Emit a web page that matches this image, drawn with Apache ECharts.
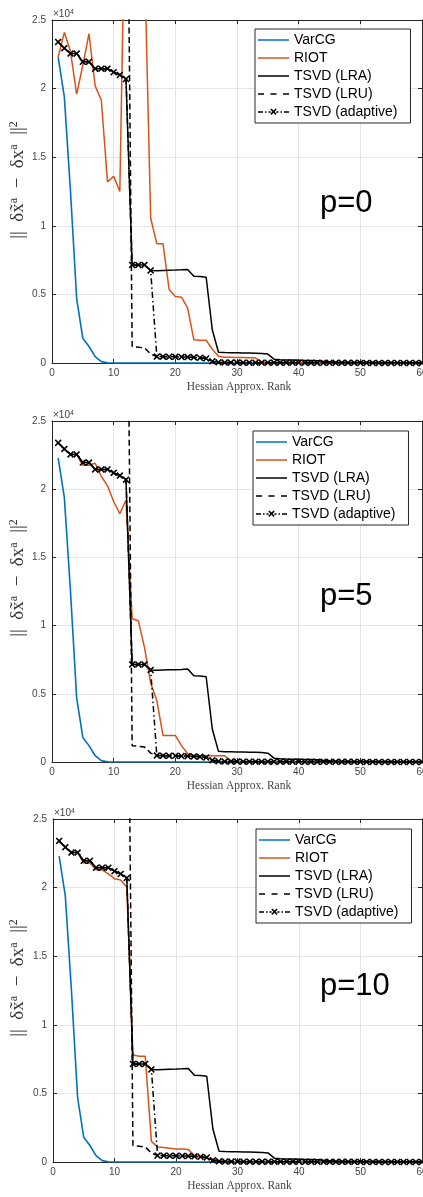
<!DOCTYPE html>
<html><head><meta charset="utf-8">
<script src="https://cdn.jsdelivr.net/npm/echarts@6/dist/echarts.min.js"></script>
<style>html,body{margin:0;padding:0;background:#fff}#c{width:423px;height:1197px}</style>
</head><body><div id="c"></div>
<script>
// ---------------- data ----------------
const ranks = [1,2,3,4,5,6,7,8,9,10,11,12,13,14,15,16,17,18,19,20,21,22,23,24,25,26,27,28,29,30,
  31,32,33,34,35,36,37,38,39,40,41,42,43,44,45,46,47,48,49,50,51,52,53,54,55,56,57,58,59,60];
const xTicks = [0,10,20,30,40,50,60];
const yTicks = [0,5000,10000,15000,20000,25000];
const panelLabels = ['p=0','p=5','p=10'];
const seriesNames = ['VarCG','RIOT','TSVD (LRA)','TSVD (LRU)','TSVD (adaptive)'];

const varcg = [22300,19400,12500,4700,1800,1200,460,100,20,0,
  0,0,0,0,0,0,0,0,0,0, 0,0,0,0,0,0,0,0,0,0, 0,0,0,0,0,0,0,0,0,0,
  0,0,0,0,0,0,0,0,0,0, 0,0,0,0,0,0,0,0,0,0];

const riotP0 = [22300,24100,22700,19600,21700,24000,20200,19150,13200,13600,
  12500,38000,null,null,29600,10550,8700,8700,5350,4850,
  4800,4000,1700,1650,1650,1000,500,420,410,400,
  400,390,380,80,40,35,33,31,30,29,
  28,27,26,25,24,23,22,21,20,19,
  18,17,16,15,14,13,12,11,10,10];

const riotP5 = [23400,22950,22550,22550,21750,21750,21900,20950,20250,19100,
  18200,19200,10500,10350,8400,5800,4500,1950,1950,1950,
  1200,600,460,460,460,460,460,460,100,60,
  40,38,36,34,32,30,29,28,27,26,
  25,24,23,22,21,20,19,18,17,16,
  15,14,13,12,11,10,10,9,9,8];

const riotP10 = [23400,22950,22550,22550,21800,21800,21300,21300,21000,20650,
  20550,20050,7800,7700,7700,1500,1100,1050,1000,950,
  950,920,450,350,300,200,100,50,40,38,
  36,34,32,30,29,28,27,26,25,24,
  23,22,21,20,19,18,17,16,15,14,
  13,12,11,10,10,9,9,8,8,7];

const tsvdLRA = [23400,22950,22550,22550,21950,21950,21450,21450,21450,21200,
  21000,20700,7150,7150,7150,6750,6720,6740,6760,6770,
  6790,6820,6320,6300,6250,2400,780,760,750,740,
  730,720,710,690,650,280,240,220,210,200,
  190,180,170,130,100,70,60,50,45,40,
  35,30,28,25,22,20,18,15,12,10];

const tsvdLRU = [null,null,null,null,null,null,null,null,null,null,
  null,48000,1200,1150,1100,650,470,460,450,450,
  440,430,410,380,330,120,50,35,30,28,
  27,26,25,24,23,22,21,20,19,18,
  17,16,15,14,13,12,11,10,10,9,
  9,8,8,7,7,6,6,5,5,5];

const tsvdAdaptive = [23400,22950,22550,22550,21950,21950,21450,21450,21450,21200,
  21000,20700,7150,7150,7150,6750,470,460,450,450,
  440,430,410,380,330,120,50,35,30,28,
  27,26,25,24,23,22,21,20,19,18,
  17,16,15,14,13,12,11,10,10,9,
  9,8,8,7,7,6,6,5,5,5];

const riotByPanel = [riotP0, riotP5, riotP10];

// ---------------- layout ----------------
const grids = [
  {left:52, top:20, width:370, height:343},
  {left:52, top:421, width:370, height:341},
  {left:53, top:819, width:369, height:343}
];
const legendPos = [{left:255, top:29},{left:253, top:431},{left:256, top:829}];
const pLabelY = [203, 596, 986];
const yTitleY = [180, 578, 978];

const AX = '#262626';
const GRID = '#e4e4e4';
const SANS = 'Liberation Sans, Arial, Helvetica, sans-serif';
const SERIF = 'Liberation Serif, DejaVu Serif, serif';
const xMark = 'path://M0,1.6L1.6,0L5,3.4L8.4,0L10,1.6L6.6,5L10,8.4L8.4,10L5,6.6L1.6,10L0,8.4L3.4,5Z';

// legend icons (31 x 10 box)
const icSolid = 'path://M0,0M31,10M0,4.25H31V5.75H0Z';
const icDash = 'path://M0,0M31,10M0,4.25H6V5.75H0Z M12.5,4.25H18.5V5.75H12.5Z M25,4.25H31V5.75H25Z';
const icDashDot = 'path://M0,0M31,10M0,4.25H5V5.75H0Z M7,4.25H8.5V5.75H7Z M10.5,4.25H12.6V5.75H10.5Z ' +
  'M12.3,2.6L13.4,1.5L15.5,3.6L17.6,1.5L18.7,2.6L16.6,4.7L18.7,6.8L17.6,7.9L15.5,5.8L13.4,7.9L12.3,6.8L14.4,4.7Z ' +
  'M18.4,4.25H20.5V5.75H18.4Z M22.5,4.25H24V5.75H22.5Z M26,4.25H31V5.75H26Z';
const legendIcons = [icSolid, icSolid, icSolid, icDash, icDashDot];

const pair = arr => ranks.map((r, i) => [r, arr[i]]);

const xAxis = [], yAxis = [], series = [], legend = [], graphic = [];
grids.forEach((g, p) => {
  g.outerBoundsMode = 'none';
  g.containLabel = false;
  const base = {
    gridIndex: p, type: 'value',
    axisLine: {show: true, onZero: false, lineStyle: {color: AX, width: 1}},
    axisTick: {show: true, inside: true, length: 4, lineStyle: {color: AX}},
  };
  xAxis.push(Object.assign({}, base, {
    position: 'bottom', min: xTicks[0], max: xTicks[xTicks.length-1], interval: xTicks[1]-xTicks[0],
    axisLabel: {fontSize: 10, color: '#444', fontFamily: SANS, margin: 5},
    splitLine: {show: true, lineStyle: {color: GRID, width: 1}}
  }));
  xAxis.push(Object.assign({}, base, {
    position: 'top', min: xTicks[0], max: xTicks[xTicks.length-1], interval: xTicks[1]-xTicks[0],
    axisLabel: {show: false}, splitLine: {show: false}
  }));
  yAxis.push(Object.assign({}, base, {
    position: 'left', min: yTicks[0], max: yTicks[yTicks.length-1], interval: yTicks[1]-yTicks[0],
    axisLabel: {fontSize: 10, color: '#444', fontFamily: SANS, margin: 6, formatter: v => String(v/10000)},
    splitLine: {show: true, lineStyle: {color: GRID, width: 1}}
  }));
  yAxis.push(Object.assign({}, base, {
    position: 'right', min: yTicks[0], max: yTicks[yTicks.length-1], interval: yTicks[1]-yTicks[0],
    axisLabel: {show: false}, splitLine: {show: false}
  }));
  const xi = p*2, yi = p*2;
  const common = {type: 'line', xAxisIndex: xi, yAxisIndex: yi, clip: true, animation: false,
    symbol: 'none', connectNulls: false};
  series.push(Object.assign({}, common, {name: seriesNames[0], data: pair(varcg),
    lineStyle: {color: '#0072BD', width: 1.6}, itemStyle: {color: '#0072BD'}, z: 2}));
  series.push(Object.assign({}, common, {name: seriesNames[1], data: pair(riotByPanel[p]),
    lineStyle: {color: '#D95319', width: 1.5}, itemStyle: {color: '#D95319'}, z: 3}));
  series.push(Object.assign({}, common, {name: seriesNames[2], data: pair(tsvdLRA),
    lineStyle: {color: '#000', width: 1.5}, itemStyle: {color: '#000'}, z: 4}));
  series.push(Object.assign({}, common, {name: seriesNames[3], data: pair(tsvdLRU),
    lineStyle: {color: '#000', width: 1.5, type: [6, 3.5]}, itemStyle: {color: '#000'}, z: 5}));
  series.push(Object.assign({}, common, {name: seriesNames[4], data: pair(tsvdAdaptive),
    symbol: xMark, symbolSize: 7, showSymbol: true,
    lineStyle: {color: '#000', width: 1.5, type: [6, 3, 1.5, 3]}, itemStyle: {color: '#000'}, z: 6}));

  legend.push({
    data: seriesNames.map((n, k) => ({name: n, icon: legendIcons[k]})),
    orient: 'vertical', left: legendPos[p].left, top: legendPos[p].top,
    itemWidth: 31, itemHeight: 10, itemGap: 2, symbolKeepAspect: false,
    itemStyle: {borderWidth: 0},
    padding: [3, 13, 3, 3], borderColor: AX, borderWidth: 1, backgroundColor: '#fff',
    selectedMode: false,
    textStyle: {fontSize: 14, color: '#000', fontFamily: SANS, lineHeight: 16}
  });

  graphic.push({type: 'text', left: g.left + 1, top: g.top - 11, z: 10,
    style: {text: '×10{s|4}', fontSize: 10, fill: '#444', fontFamily: SANS,
      rich: {s: {fontSize: 7, verticalAlign: 'top', fill: '#444', fontFamily: SANS, padding: [0,0,4,0]}}}});
  graphic.push({type: 'text', x: 320, y: pLabelY[p], z: 10,
    style: {text: panelLabels[p], fontSize: 31, fill: '#000', fontFamily: SANS, verticalAlign: 'middle', align: 'left'}});
  graphic.push({type: 'text', x: 18, y: yTitleY[p], rotation: Math.PI/2, z: 10,
    style: {text: '||  δx̃{s|a}  −  δx{s|a}  ||{s|2}', fontSize: 19, fill: '#333', fontFamily: SERIF,
      align: 'center', verticalAlign: 'middle',
      rich: {s: {fontSize: 12, fill: '#333', fontFamily: SERIF, verticalAlign: 'top', padding: [0,0,8,0]}}}});
  graphic.push({type: 'text', x: g.left + g.width/2 + 2, y: g.top + g.height + 24, z: 10,
    style: {text: 'Hessian Approx. Rank', fontSize: 11.5, fill: '#444', fontFamily: SERIF,
      align: 'center', verticalAlign: 'middle'}});
});

const chart = echarts.init(document.getElementById('c'), null, {renderer: 'canvas'});
chart.setOption({
  animation: false, backgroundColor: '#fff',
  grid: grids, xAxis, yAxis, series, legend, graphic
});
</script></body></html>
